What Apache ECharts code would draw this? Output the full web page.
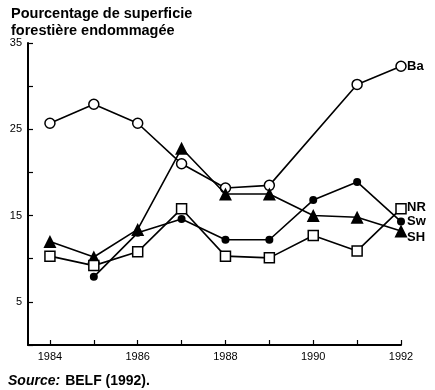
<!DOCTYPE html>
<html><head><meta charset="utf-8">
<script src="https://cdn.jsdelivr.net/npm/echarts@6/dist/echarts.min.js"></script>
<style>html,body{margin:0;padding:0;background:#fff}#c{width:435px;height:390px}</style>
</head><body><div id="c"></div>
<script>
const years = [1984,1985,1986,1987,1988,1989,1990,1991,1992];
const ba = [25.7,27.9,25.7,21.0,18.2,18.5,null,30.2,32.3];
const sh = [12.0,10.2,13.4,22.8,17.5,17.5,15.0,14.8,13.2];
const sw = [null,7.9,13.0,14.6,12.2,12.2,16.8,18.9,14.3];
const nr = [10.3,9.2,10.8,15.8,10.3,10.1,12.7,10.9,15.8];
const xTickYears = [1984,1985,1986,1987,1988,1989,1990,1991,1992];
const xLabelYears = [1984,1986,1988,1990,1992];
const yLabels = [5,15,25,35];

const FONT = '"Liberation Sans", Arial, sans-serif';
const chart = echarts.init(document.getElementById('c'));
function pts(arr){ return years.map((y,i)=>[y,arr[i]]); }
function endLab(name, dy){
  return {show:true, formatter:name, color:'#000', fontFamily:FONT, fontWeight:'bold', fontSize:13, offset:[2,dy], distance:4};
}
const lineStyle = {color:'#000', width:1.6};
chart.setOption({
  animation:false,
  title:[
    {text:'Pourcentage de superficie\nforestière endommagée', left:6, top:0,
     textStyle:{fontFamily:FONT, fontSize:14.5, fontWeight:'bold', color:'#000', lineHeight:17}},
    {text:'{i|Source:} {n|BELF (1992).}', left:3, top:367,
     textStyle:{rich:{i:{fontFamily:FONT, fontSize:14, fontStyle:'italic', fontWeight:'bold', color:'#000'},
                     n:{fontFamily:FONT, fontSize:14, fontWeight:'bold', color:'#000'}}}}
  ],
  grid:{left:28, right:34, top:43, bottom:45},
  xAxis:{type:'value', min:1983.5, max:1992,
    axisLine:{lineStyle:{color:'#000', width:2}},
    axisTick:{show:true, inside:true, length:5, customValues:xTickYears, lineStyle:{color:'#000', width:1.2}},
    axisLabel:{customValues:xLabelYears, color:'#000', fontFamily:FONT, fontSize:11, margin:6,
      formatter:v=>String(v)},
    splitLine:{show:false}},
  yAxis:{type:'value', min:0, max:35, interval:5,
    axisLine:{show:true, lineStyle:{color:'#000', width:2}},
    axisTick:{show:true, inside:true, length:5, lineStyle:{color:'#000', width:1.2}},
    axisLabel:{color:'#000', fontFamily:FONT, fontSize:11, margin:6,
      formatter:v=> yLabels.indexOf(v)>=0 ? String(v) : ''},
    splitLine:{show:false}},
  series:[
    {name:'Ba', type:'line', data:pts(ba), connectNulls:true, symbol:'circle', symbolSize:10,
     itemStyle:{color:'#fff', borderColor:'#000', borderWidth:1.5}, lineStyle, z:2,
     endLabel:endLab('Ba',0)},
    {name:'SH', type:'line', data:pts(sh), symbol:'triangle', symbolSize:[13,13],
     itemStyle:{color:'#000', borderColor:'#000', borderWidth:0}, lineStyle, z:3,
     endLabel:endLab('SH',6)},
    {name:'Sw', type:'line', data:pts(sw), symbol:'circle', symbolSize:8,
     itemStyle:{color:'#000', borderColor:'#000', borderWidth:0}, lineStyle, z:4,
     endLabel:endLab('Sw',0)},
    {name:'NR', type:'line', data:pts(nr), symbol:'rect', symbolSize:10,
     itemStyle:{color:'#fff', borderColor:'#000', borderWidth:1.5}, lineStyle, z:5,
     endLabel:endLab('NR',-1)}
  ]
});
</script></body></html>
